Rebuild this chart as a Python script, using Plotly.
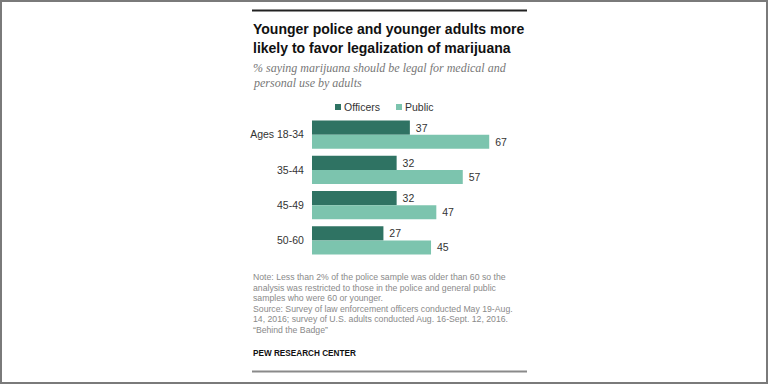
import plotly.graph_objects as go

# ---- data ----
categories = ["Ages 18-34", "35-44", "45-49", "50-60"]
officers = [37, 32, 32, 27]
public = [67, 57, 47, 45]
series_names = ["Officers", "Public"]

title_lines = ["Younger police and younger adults more",
               "likely to favor legalization of marijuana"]
subtitle_lines = ["% saying marijuana should be legal for medical and",
                  "personal use by adults"]
note_lines = [
    "Note: Less than 2% of the police sample was older than 60 so the",
    "analysis was restricted to those in the police and general public",
    "samples who were 60 or younger.",
    "Source: Survey of law enforcement officers conducted May 19-Aug.",
    "14, 2016; survey of U.S. adults conducted Aug. 16-Sept. 12, 2016.",
    "\u201cBehind the Badge\u201d",
]
credit = "PEW RESEARCH CENTER"

# ---- style ----
W, H = 768, 384
C_OFF = "#2f7363"
C_PUB = "#7cc4ae"
SANS = "Liberation Sans, Arial, sans-serif"
SERIF = "Liberation Serif, Georgia, serif"


def px(x):
    return x / W


def py(y):
    return 1 - y / H


fig = go.Figure()
for name, vals, col in [(series_names[0], officers, C_OFF), (series_names[1], public, C_PUB)]:
    fig.add_trace(go.Bar(
        name=name, x=vals, y=categories, orientation="h",
        marker=dict(color=col, line=dict(width=0)),
        text=vals, texttemplate=" %{x}", textposition="outside",
        textfont=dict(family=SANS, size=10.5, color="#333333"),
        constraintext="none", cliponaxis=False, showlegend=False,
        hoverinfo="skip",
    ))

ann = []
# title
for i, t in enumerate(title_lines):
    ann.append(dict(text="<b>%s</b>" % t, x=px(251), y=py(29 + i * 19), xanchor="left", yanchor="middle",
                    font=dict(family=SANS, size=14, color="#111111")))
for i, t in enumerate(subtitle_lines):
    ann.append(dict(text="<i>%s</i>" % t, x=px(251), y=py(68 + i * 15), xanchor="left", yanchor="middle",
                    font=dict(family=SERIF, size=12, color="#777777")))
for i, t in enumerate(note_lines):
    ann.append(dict(text=t, x=px(251), y=py(277 + i * 10.6), xanchor="left", yanchor="middle",
                    font=dict(family=SANS, size=8.7, color="#8a8a8a")))
ann.append(dict(text="<b>%s</b>" % credit, x=px(251), y=py(353), xanchor="left", yanchor="middle",
                font=dict(family=SANS, size=8.2, color="#111111")))
# legend text
ann.append(dict(text=series_names[0], x=px(342), y=py(107), xanchor="left", yanchor="middle",
                font=dict(family=SANS, size=10.5, color="#333333")))
ann.append(dict(text=series_names[1], x=px(403), y=py(107), xanchor="left", yanchor="middle",
                font=dict(family=SANS, size=10.5, color="#333333")))
for a in ann:
    a.update(xref="paper", yref="paper", showarrow=False)

shapes = [
    # outer frame
    dict(type="rect", xref="paper", yref="paper", x0=px(1), x1=px(W - 1), y0=py(H - 1), y1=py(1),
         line=dict(color="#7a7a7a", width=2)),
    # top rule
    dict(type="line", xref="paper", yref="paper", x0=px(252), x1=px(527), y0=py(10.5), y1=py(10.5),
         line=dict(color="#222222", width=2)),
    # bottom rule
    dict(type="line", xref="paper", yref="paper", x0=px(252), x1=px(527), y0=py(371.5), y1=py(371.5),
         line=dict(color="#8a8a8a", width=2)),
    # legend swatches
    dict(type="rect", xref="paper", yref="paper", x0=px(335), x1=px(341), y0=py(110), y1=py(104),
         fillcolor=C_OFF, line=dict(width=0)),
    dict(type="rect", xref="paper", yref="paper", x0=px(396), x1=px(402), y0=py(110), y1=py(104),
         fillcolor=C_PUB, line=dict(width=0)),
]

fig.update_layout(
    width=W, height=H, margin=dict(l=0, r=0, t=0, b=0),
    paper_bgcolor="white", plot_bgcolor="white",
    barmode="group", bargap=0.2, bargroupgap=0,
    showlegend=False,
    xaxis=dict(domain=[px(312), px(312 + 264.5)], range=[0, 100], visible=False, fixedrange=True),
    yaxis=dict(domain=[py(258), py(117)], type="category", categoryorder="array", categoryarray=categories,
               autorange="reversed", showgrid=False, zeroline=False, showline=False,
               ticks="outside", ticklen=5, tickcolor="rgba(0,0,0,0)",
               tickfont=dict(family=SANS, size=10.5, color="#333333"), fixedrange=True),
    annotations=ann, shapes=shapes,
)

fig.write_html(
    "out.html",
    config={"displayModeBar": False},
    post_script="document.body.style.margin='0';document.body.style.overflow='hidden';",
)
